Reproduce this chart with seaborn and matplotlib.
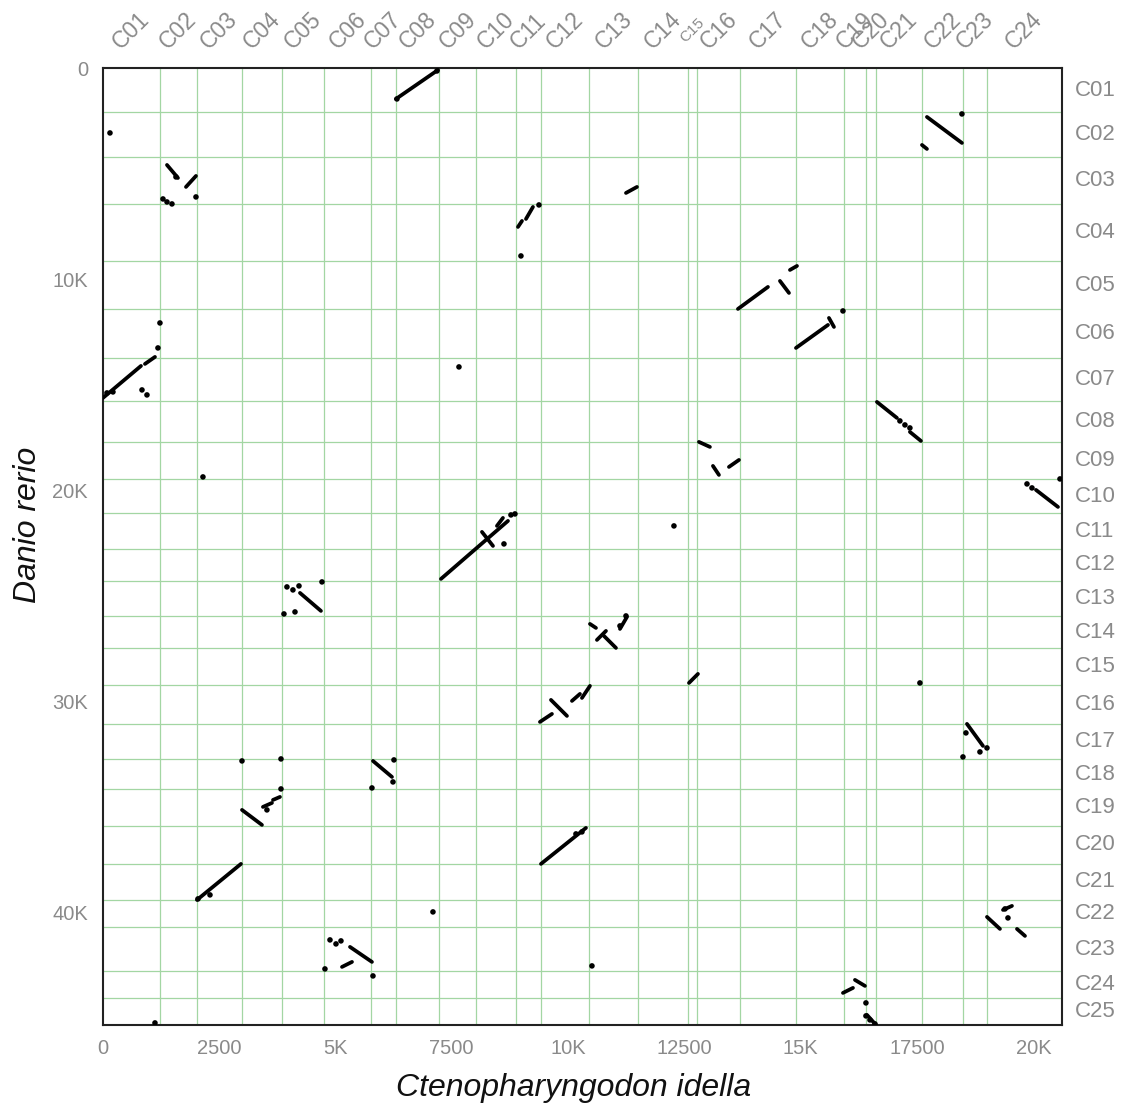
import numpy as np
import pandas as pd
import matplotlib
matplotlib.use("Agg")
import matplotlib.pyplot as plt
import seaborn as sns

# Chromosome boundaries (cumulative gene order) for each genome
x_chrom = [f"C{i:02d}" for i in range(1, 25)]
x_bounds = [0, 1231, 2020, 2987, 3847, 4763, 5766, 6303, 7234, 8023, 8883, 9413,
            10458, 11511, 12573, 12779, 13697, 14900, 15938, 16398, 16620, 17602,
            18496, 18999, 20611]
y_chrom = [f"C{i:02d}" for i in range(1, 26)]
y_bounds = [0, 2085, 4190, 6445, 9133, 11422, 13716, 15754, 17697, 19465, 21090,
            22782, 24284, 25957, 27488, 29227, 31076, 32749, 34171, 35910, 37711,
            39417, 40711, 42782, 44076, 45341]

# Syntenic blocks: start / end positions on each genome
seg_x0 = [6303, 1382, 1790, 6, 909, 4240, 17714, 17607, 11246, 8925, 9097, 13652,
          14555, 14770, 14899, 15608, 16639, 17348, 12814, 13115, 13459, 20057,
          7270, 8151, 8473, 10472, 10622, 10773, 11117, 12600, 9397, 9634, 10085,
          10300, 18574, 5809, 2994, 3444, 3660, 2027, 5315, 5143, 9419, 19004,
          19348, 19649, 15909, 16167, 16425]
seg_y0 = [1455, 4583, 5625, 15624, 14013, 24865, 2308, 3635, 5910, 7521, 7142, 11407,
          10080, 9559, 13255, 11834, 15814, 17235, 17709, 18847, 18894, 19984,
          24202, 21974, 21690, 26335, 27093, 26904, 26572, 29131, 30979, 29936, 29984,
          29842, 31073, 32828, 35149, 35007, 34676, 39414, 41642, 42590, 37708, 40220,
          39888, 40789, 43822, 43206, 44865]
seg_x1 = [7206, 1618, 2005, 823, 1124, 4691, 18466, 17714, 11482, 9011, 9247, 14297,
          14749, 14921, 15587, 15716, 17069, 17585, 13050, 13244, 13674, 20530,
          8710, 8388, 8602, 10601, 10816, 11031, 11267, 12793, 9655, 9978, 10257,
          10472, 18918, 6217, 3423, 3638, 3810, 2972, 5787, 5358, 10386, 19283,
          19541, 19821, 16124, 16382, 16618]
seg_y1 = [81, 5199, 5104, 14108, 13681, 25718, 3540, 3824, 5625, 7237, 6573, 10364,
          10649, 9369, 12165, 12260, 16572, 17662, 17946, 19273, 18563, 20790,
          21453, 22638, 21311, 26524, 26667, 27472, 26003, 28704, 30600, 30695, 29652,
          29273, 32116, 33586, 35860, 34818, 34534, 37708, 42353, 42353, 36002, 40789,
          39699, 41121, 43585, 43490, 45338]

# Isolated syntenic gene pairs
dot_x = [157, 1575, 2005, 1296, 1382, 1489, 1231, 1188, 845, 952, 92, 221, 2155,
         7657, 3960, 4089, 4219, 3896, 4133, 4713, 18466, 9376, 8989, 15909, 17133,
         17241, 17348, 19864, 19971, 20573, 12277, 8624, 8774, 8860, 11117, 11246,
         17563, 18552, 18853, 19004, 18488, 2994, 3832, 6260, 6239, 5787, 3832, 3530,
         7098, 10515, 4777, 4885, 5014, 5121, 5809, 1124, 16403, 19455, 19391, 16403,
         16489, 16597, 2048, 2306, 6324, 7184, 10300, 10171]
dot_y = [3066, 5151, 6099, 6194, 6336, 6430, 12071, 13255, 15245, 15482, 15387, 15340,
         19368, 14155, 24581, 24723, 24534, 25861, 25766, 24344, 2166, 6478, 8895,
         11502, 16714, 16904, 17046, 19700, 19889, 19463, 21690, 22543, 21169, 21122,
         26429, 25956, 29131, 31500, 32401, 32211, 32638, 32828, 32733, 32780, 33823,
         34108, 34155, 35149, 39983, 42542, 42685, 41310, 41500, 41357, 43017, 45244,
         44296, 40268, 39841, 44912, 45102, 45291, 39367, 39177, 1455, 128, 36191,
         36286]

x_ticks = [0, 2500, 5000, 7500, 10000, 12500, 15000, 17500, 20000]
x_ticklabels = ["0", "2500", "5K", "7500", "10K", "12500", "15K", "17500", "20K"]
y_ticks = [0, 10000, 20000, 30000, 40000]
y_ticklabels = ["0", "10K", "20K", "30K", "40K"]

sns.set_theme(style="white")
plt.rcParams["font.family"] = ["Liberation Sans", "DejaVu Sans"]

label_grey = "#8a8a8a"
grid_green = "#a3d6a3"

fig = plt.figure(figsize=(11.27, 11.17), dpi=100)
ax = fig.add_axes([0.0911, 0.0824, 0.8510, 0.8565])
ax.grid(False)

# chromosome boundary lines
for b in x_bounds[1:-1]:
    ax.axvline(b, color=grid_green, lw=0.9, zorder=1)
for b in y_bounds[1:-1]:
    ax.axhline(b, color=grid_green, lw=0.9, zorder=1)

n_seg = len(seg_x0)
segs = pd.DataFrame({
    "block": np.repeat(np.arange(n_seg), 2),
    "x": np.column_stack([seg_x0, seg_x1]).ravel(),
    "y": np.column_stack([seg_y0, seg_y1]).ravel(),
})
sns.lineplot(data=segs, x="x", y="y", units="block", estimator=None, sort=False,
             color="black", lw=2.7, solid_capstyle="round", ax=ax, zorder=3)
sns.scatterplot(x=dot_x, y=dot_y, color="black", s=16, edgecolor="none", ax=ax,
                zorder=4)

ax.set_xlim(0, x_bounds[-1])
ax.set_ylim(y_bounds[-1], 0)
ax.set_xticks(x_ticks)
ax.set_xticklabels(x_ticklabels)
ax.set_yticks(y_ticks)
ax.set_yticklabels(y_ticklabels)
ax.tick_params(axis="both", length=0, labelsize=14.5, labelcolor=label_grey)
ax.tick_params(axis="x", pad=10)
ax.tick_params(axis="y", pad=10.5)
ax.set_xlabel("")
ax.set_ylabel("")
for s in ax.spines.values():
    s.set_color("#222222")
    s.set_linewidth(1.5)
    s.set_visible(True)

# chromosome names along the top and the right side
for i, name in enumerate(x_chrom):
    mid = (x_bounds[i] + x_bounds[i + 1]) / 2
    size = 11 if name == "C15" else 16.5
    ax.annotate(name, xy=(mid, 1), xycoords=("data", "axes fraction"),
                xytext=(0, 27), textcoords="offset points", rotation=45,
                rotation_mode="anchor", ha="center", va="center",
                fontsize=size, color=label_grey, annotation_clip=False)
for i, name in enumerate(y_chrom):
    mid = (y_bounds[i] + y_bounds[i + 1]) / 2
    ax.annotate(name, xy=(1, mid), xycoords=("axes fraction", "data"),
                xytext=(9.5, 0), textcoords="offset points", ha="left",
                va="center", fontsize=16, color=label_grey, annotation_clip=False)

fig.text(574 / 1127, 1 - 1088 / 1117, "Ctenopharyngodon idella", style="italic",
         fontsize=23, ha="center", va="center", color="#111111")
fig.text(28 / 1127, 1 - 525 / 1117, "Danio rerio", style="italic", rotation=90,
         fontsize=23, ha="center", va="center", color="#111111")

fig.savefig("out.png", dpi=100)
